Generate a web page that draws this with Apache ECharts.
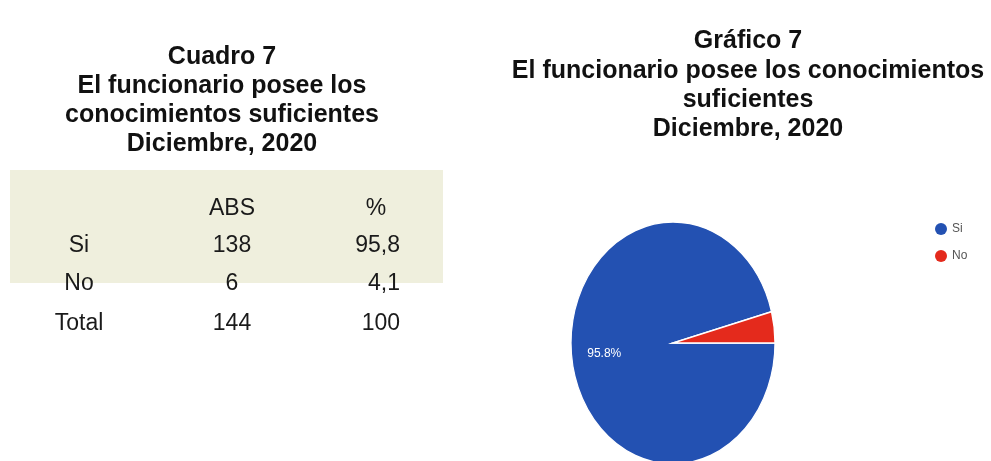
<!DOCTYPE html>
<html>
<head>
<meta charset="utf-8">
<script src="https://cdn.jsdelivr.net/npm/echarts@6/dist/echarts.min.js"></script>
<style>
html,body{margin:0;padding:0;background:#fff;}
#main{width:991px;height:461px;}
</style>
</head>
<body>
<div id="main"></div>
<script>
// ---- data ----
const tableTitleLines = ['Cuadro 7', 'El funcionario posee los', 'conocimientos suficientes', 'Diciembre, 2020'];
const chartTitleLines = ['Gráfico 7', 'El funcionario posee los conocimientos', 'suficientes', 'Diciembre, 2020'];
const tableHeader = ['', 'ABS', '%'];
const categories = ['Si', 'No'];
const absValues = [138, 6];
const pctValues = ['95,8', '4,1'];
const totalRow = ['Total', '144', '100'];

// ---- styles / layout ----
const sliceColors = ['#2351b2', '#e42a1c'];
const FONT = 'Liberation Sans, Arial, sans-serif';

const chart = echarts.init(document.getElementById('main'), null, {renderer: 'canvas'});

const graphics = [];
// table background
graphics.push({type: 'rect', shape: {x: 10, y: 170, width: 433, height: 113}, style: {fill: '#efefdd'}, z: 0});
// titles
const leftBase = [45, 74, 103, 132];
tableTitleLines.forEach((t, i) => graphics.push({
  type: 'text', x: 222, y: leftBase[i], z: 5,
  style: {text: t, textAlign: 'center', textVerticalAlign: 'alphabetic', font: 'bold 25px ' + FONT, fill: '#111'}
}));
const rightBase = [29, 59, 88, 117];
chartTitleLines.forEach((t, i) => graphics.push({
  type: 'text', x: 748, y: rightBase[i], z: 5,
  style: {text: t, textAlign: 'center', textVerticalAlign: 'alphabetic', font: 'bold 25px ' + FONT, fill: '#111'}
}));
// table cells
const colX = [79, 232, 400];
const colAlign = ['center', 'center', 'right'];
const rows = [tableHeader]
  .concat(categories.map((c, i) => [c, String(absValues[i]), pctValues[i]]))
  .concat([totalRow]);
const rowBase = [197, 234, 272, 312];
rows.forEach((r, ri) => r.forEach((cell, ci) => {
  if (!cell) return;
  const isPctHeader = ri === 0 && ci === 2;
  graphics.push({
    type: 'text', x: isPctHeader ? 376 : colX[ci], y: rowBase[ri], z: 5,
    style: {text: cell, textAlign: isPctHeader ? 'center' : colAlign[ci], textVerticalAlign: 'alphabetic',
      font: '23px ' + FONT, fill: '#1a1a1a'}
  });
}));

// elliptical pie via custom series
const total = absValues.reduce((a, b) => a + b, 0);
const PIE = {cx: 673, cy: 343, rx: 102, ry: 121};
function makeSeries(i) {
  const before = absValues.slice(0, i).reduce((a, b) => a + b, 0);
  return {
    type: 'custom',
    name: categories[i],
    coordinateSystem: 'none',
    itemStyle: {color: sliceColors[i]},
    data: [absValues[i]],
    renderItem: function (params, api) {
      const v = api.value(0);
      const a0 = before / total * Math.PI * 2;
      const a1 = (before + v) / total * Math.PI * 2;
      const children = [{
        type: 'sector',
        x: PIE.cx, y: PIE.cy,
        scaleX: PIE.rx / PIE.ry, scaleY: 1,
        shape: {cx: 0, cy: 0, r0: 0, r: PIE.ry, startAngle: a0, endAngle: a1, clockwise: true},
        style: {fill: sliceColors[i], stroke: '#ffffff', lineWidth: 1.5}
      }];
      const share = v / total;
      if (share > 0.05) {
        const mid = (a0 + a1) / 2;
        children.push({
          type: 'text',
          x: PIE.cx + 0.68 * PIE.rx * Math.cos(mid),
          y: PIE.cy + 0.68 * PIE.ry * Math.sin(mid),
          style: {text: (share * 100).toFixed(1) + '%', textAlign: 'center', textVerticalAlign: 'middle',
            font: '12px ' + FONT, fill: '#ffffff'}
        });
      }
      return {type: 'group', children: children};
    }
  };
}

chart.setOption({
  animation: false,
  backgroundColor: '#ffffff',
  legend: {
    data: categories,
    orient: 'vertical',
    left: 930, top: 218,
    icon: 'circle',
    itemWidth: 12, itemHeight: 12,
    itemGap: 15,
    textStyle: {fontSize: 12, color: '#555', fontFamily: FONT}
  },
  graphic: graphics,
  series: categories.map((c, i) => makeSeries(i))
});
</script>
</body>
</html>
